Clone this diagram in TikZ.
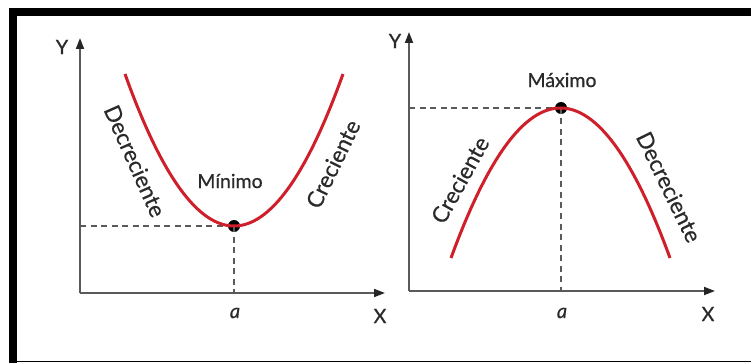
\documentclass[tikz,border=0pt]{standalone}
\usepackage{fontspec}
\setmainfont{Lato}
\newfontfamily\lblfont{Lato}[FakeBold=0.6]
\usetikzlibrary{arrows.meta}
\definecolor{curvered}{HTML}{CE1F2A}
\definecolor{axisgray}{HTML}{5A5A5A}
\definecolor{txtgray}{HTML}{2A2A2A}
\definecolor{tipblack}{HTML}{262626}
\tikzset{
  axisline/.style={draw=axisgray, line width=1.8pt, -{Triangle[length=11pt,width=8pt,color=tipblack,fill=tipblack]}},
  guide/.style={draw=axisgray, line width=1.3pt, dash pattern=on 6pt off 4.5pt},
  curve/.style={draw=curvered, line width=3pt},
  lbl/.style={font=\lblfont\fontsize{20}{24}\selectfont, text=txtgray, inner sep=0pt},
  slope/.style={font=\lblfont\fontsize{22.5}{26}\selectfont, text=txtgray, inner sep=0pt},
  extlbl/.style={font=\lblfont\fontsize{19.5}{23}\selectfont, text=txtgray, inner sep=0pt},
  dot/.style={circle, fill=black, inner sep=0pt, minimum size=12pt},
}
\begin{document}
\begin{tikzpicture}[x=1pt,y=-1pt]
\useasboundingbox (0,0) rectangle (751,363);
% frame
\fill[black] (9,8) rectangle (751,16);
\fill[black] (9,8) rectangle (17,363);
\draw[black, line width=1pt] (17,361) -- (751,361);

% ---------- left graph ----------
\coordinate (O1) at (80,293);
\coordinate (Y1) at (80,38);
\coordinate (X1) at (385,293);
\draw[axisline] (O1) -- (Y1);
\draw[axisline] (O1) -- (X1);
\node[lbl] (ylab1) at (62,47) {Y};
\node[lbl] (xlab1) at (380,316) {X};
\node[dot] (min) at (234,226) {};
\coordinate (minY) at (80,226);
\coordinate (minX) at (234,293);
\draw[guide] (minY) -- (min.center);
\draw[guide] (min.center) -- (minX);
\draw[curve] (125,74) .. controls (197.67,276.67) and (270.33,276.67) .. (343,74);
\node[lbl] (alab1) at (235,313) {\itshape a};
\node[extlbl] (minlab) at (230,181) {Mínimo};
\node[slope, rotate=-66] (dec1) at (135,161) {Decreciente};
\node[slope, rotate=64] (cre1) at (333,164) {Creciente};

% ---------- right graph ----------
\coordinate (O2) at (409,291);
\coordinate (Y2) at (409,32);
\coordinate (X2) at (715,291);
\draw[axisline] (O2) -- (Y2);
\draw[axisline] (O2) -- (X2);
\node[lbl] (ylab2) at (395,41) {Y};
\node[lbl] (xlab2) at (708,314) {X};
\node[dot] (max) at (561,108) {};
\coordinate (maxY) at (409,108);
\coordinate (maxX) at (561,291);
\draw[guide] (maxY) -- (max.center);
\draw[guide] (max.center) -- (maxX);
\draw[curve] (451,258) .. controls (524,58) and (597,58) .. (670,258);
\node[lbl] (alab2) at (562,313) {\itshape a};
\node[extlbl] (maxlab) at (562,80) {Máximo};
\node[slope, rotate=61] (cre2) at (460,180) {Creciente};
\node[slope, rotate=-64] (dec2) at (669,187) {Decreciente};
\end{tikzpicture}
\end{document}
